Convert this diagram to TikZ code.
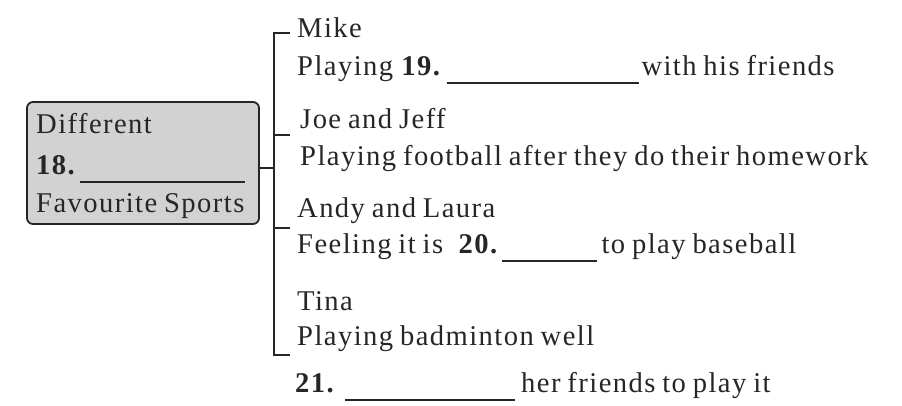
\documentclass[tikz,border=0pt]{standalone}
\usepackage{fontspec}
\setmainfont{Liberation Serif}[LetterSpace=5, WordSpace=0.8]
\usepackage{tikz}
\usetikzlibrary{positioning, calc}
\definecolor{inkgray}{HTML}{262626}
\definecolor{boxgray}{HTML}{D2D2D2}
\newcommand{\blank}[1]{\rule[-9pt]{#1}{1.8pt}}

\begin{document}
\begin{tikzpicture}[x=1pt, y=-1pt,
    line/.style={inkgray, line width=1.8pt},
    txt/.style={anchor=base west, inner sep=0pt, text=inkgray, font=\fontsize{28.6pt}{34pt}\selectfont}]
  \useasboundingbox (0,0) rectangle (902,405);

  % centre box
  \node[draw=inkgray, fill=boxgray, line width=1.8pt, rounded corners=6pt,
        minimum width=232pt, minimum height=122pt, inner sep=0pt] (topic) at (143,163) {};
  \node[txt] (diff) at (36,133) {Different};
  \node[txt] (q18) at (36,174) {\textbf{18.}\hspace{4pt}\blank{165pt}};
  \node[txt] (fav) at (36,212) {Favourite Sports};

  % trunk
  \coordinate (t0) at (274,168);
  \coordinate (t1) at (274,33);  \coordinate (k1) at (290,33);
  \coordinate (t2) at (274,135); \coordinate (k2) at (290,135);
  \coordinate (t3) at (274,228); \coordinate (k3) at (290,228);
  \coordinate (t4) at (274,355); \coordinate (k4) at (290,355);
  \draw[line] (topic.east |- t0) -- (t0);
  \draw[line] (k1) -- (t1) -- (t4) -- (k4);
  \draw[line] (t2) -- (k2);
  \draw[line] (t3) -- (k3);

  % branches
  \node[txt] (mike) at (297,37) {Mike};
  \node[txt] (mikeact) at (297,75) {Playing \textbf{19.}\hspace{5pt}\blank{192pt}\hspace{3pt}with his friends};
  \node[txt] (joe) at (300,128) {Joe and Jeff};
  \node[txt] (joeact) at (300,165) {Playing football after they do their homework};
  \node[txt] (andy) at (297,217) {Andy and Laura};
  \node[txt] (andyact) at (297,253) {Feeling it is\hspace{14pt}\textbf{20.}\hspace{3pt}\blank{95pt}\hspace{5pt}to play baseball};
  \node[txt] (tina) at (297,310) {Tina};
  \node[txt] (tinaact) at (297,345) {Playing badminton well};
  \node[txt] (q21) at (295,392) {\textbf{21.}\hspace{10pt}\blank{170pt}\hspace{6pt}her friends to play it};
\end{tikzpicture}
\end{document}
